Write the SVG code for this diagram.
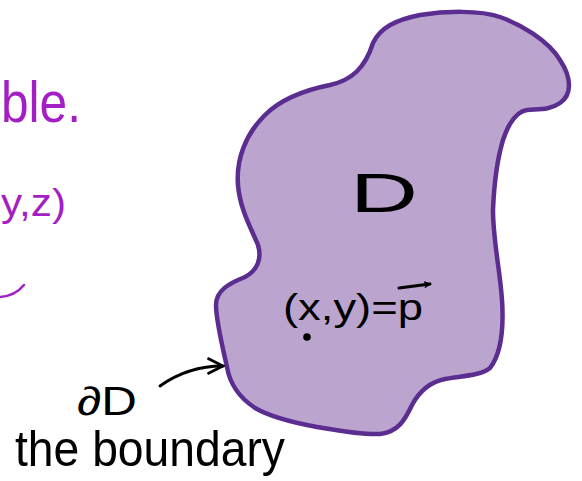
<svg xmlns="http://www.w3.org/2000/svg" width="582" height="481" viewBox="0 0 582 481">
<style>
.ink{font-family:"Liberation Sans","DejaVu Sans",sans-serif;fill:#000}
.mag{font-family:"Liberation Sans","DejaVu Sans",sans-serif;fill:#a31fc4}
.line{fill:none;stroke:#000;stroke-width:3;stroke-linecap:round;stroke-linejoin:round}
</style>
<defs>
<marker id="head" viewBox="0 0 10 10" refX="9" refY="5" markerWidth="7" markerHeight="7" orient="auto" markerUnits="userSpaceOnUse">
<path d="M1,1 L9,5 L1,9" fill="none" stroke="#000" stroke-width="2"/>
</marker>
<marker id="head2" viewBox="0 0 10 10" refX="9" refY="5" markerWidth="18" markerHeight="18" orient="auto" markerUnits="userSpaceOnUse">
<path d="M1,1 L9,5 L1,9" fill="none" stroke="#000" stroke-width="1.6" stroke-linecap="round"/>
</marker>
</defs>
<rect width="582" height="481" fill="#fff"/>
<g id="left-notes">
<text class="mag" x="1" y="122" font-size="58" textLength="80" lengthAdjust="spacingAndGlyphs">ble.</text>
<text class="mag" x="1" y="216" font-size="38" textLength="65" lengthAdjust="spacingAndGlyphs">y,z)</text>
<path d="M0,297 Q15,296 24,285" fill="none" stroke="#a31fc4" stroke-width="2.5" stroke-linecap="round"/>
</g>
<g id="region-D">
<path d="M373,43 C380,28 395,20 420,15 C445,11 480,10 500,17 C520,24 548,40 560,60 C572,78 572,95 560,103 C550,110 540,109 527,110 C515,112 508,125 503,140 C497,160 494,185 493,210 C493,240 500,270 502,300 C504,330 500,355 490,368 C480,376 460,376 445,379 C430,382 420,390 412,405 C405,420 398,432 380,434 C360,435 335,430 317,427 C295,423 272,418 255,408 C240,398 230,385 227,367 C222,345 216,320 216,305 C216,290 230,283 245,277 C258,270 262,258 258,245 C252,230 240,210 238,185 C236,160 245,135 265,115 C280,100 305,90 330,85 C352,80 365,68 373,43 Z" fill="#bba4cd" stroke="#5c2d91" stroke-width="4.5" stroke-linejoin="round"/>
<text class="ink" x="350" y="212" font-size="56" textLength="68" lengthAdjust="spacingAndGlyphs">D</text>
</g>
<g id="point-p">
<text class="ink" x="283" y="320" font-size="36" textLength="140" lengthAdjust="spacingAndGlyphs">(x,y)=p</text>
<path class="line" d="M399,288 L430,284" marker-end="url(#head)" stroke-width="2.5"/>
<circle cx="307" cy="337" r="3.8" fill="#000"/>
</g>
<g id="boundary-label">
<text class="ink" x="77" y="415" font-size="40" textLength="60" lengthAdjust="spacingAndGlyphs">∂D</text>
<text class="ink" x="15" y="466" font-size="50" textLength="270" lengthAdjust="spacingAndGlyphs">the boundary</text>
</g>
<g id="connectors">
<path class="line" d="M160,386 Q188,366 223,366" marker-end="url(#head2)"/>
</g>
</svg>
